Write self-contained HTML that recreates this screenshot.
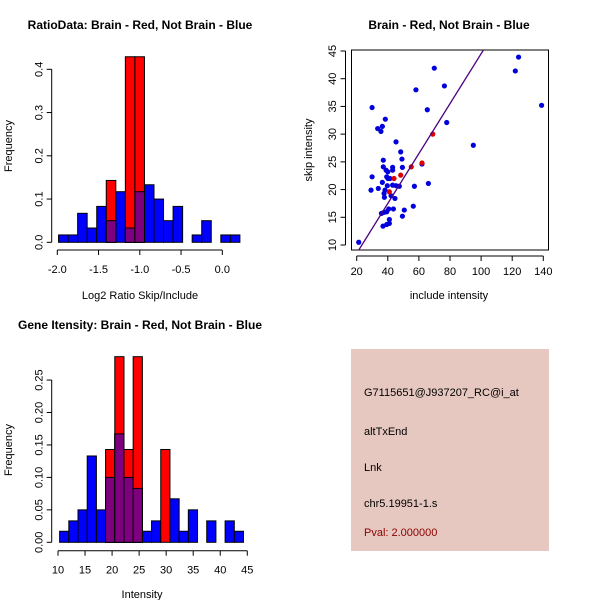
<!DOCTYPE html>
<html><head><meta charset="utf-8"><style>
body{margin:0;background:#fff}
svg{display:block;font-family:"Liberation Sans",Arial,sans-serif}
</style></head><body>
<svg id="c" width="600" height="600" xmlns="http://www.w3.org/2000/svg"></svg>
<script>
// ---- Data ----
const ratioBinStart = -1.985;
const ratioBinWidth = 0.1157;
const ratioBlue = [0.017,0.017,0.067,0.033,0.083,0.05,0.117,0.033,0.117,0.133,0.1,0.05,0.083,0,0.017,0.05,0,0.017,0.017];
const ratioRed  = [0,0,0,0,0,0.143,0,0.429,0.429,0,0,0,0,0,0,0,0,0,0];
const ratioXTicks = [-2.0,-1.5,-1.0,-0.5,0.0];
const ratioXTickLabels = ["-2.0","-1.5","-1.0","-0.5","0.0"];
const ratioYTicks = [0,0.1,0.2,0.3,0.4];
const ratioYTickLabels = ["0.0","0.1","0.2","0.3","0.4"];

const intBinStart = 10.3;
const intBinWidth = 1.70;
const intBlue = [0.017,0.033,0.05,0.133,0.05,0.1,0.167,0.1,0.083,0.017,0.033,0,0.067,0.017,0.05,0,0.033,0,0.033,0.017];
const intRed  = [0,0,0,0,0,0.143,0.286,0.143,0.286,0,0,0.143,0,0,0,0,0,0,0,0];
const intXTicks = [10,15,20,25,30,35,40,45];
const intYTicks = [0,0.05,0.10,0.15,0.20,0.25];
const intYTickLabels = ["0.00","0.05","0.10","0.15","0.20","0.25"];

const blueInclude = [21.3,29.9,29.2,29.9,33.9,33.5,35.6,36.5,38.4,37.1,37.1,36.5,38.9,40,40.1,39.3,41.4,38.2,37.6,39.7,43.1,45.3,47.4,37.8,42.1,44.6,43.1,43.1,45.3,48.3,49.1,49.4,35.9,37.6,39.3,40.6,43.6,36.9,39.3,41,41,49.4,50.6,56.4,57.1,58.1,65.4,66.1,62,69.9,76.4,77.9,95,122,124.1,138.9];
const blueSkip    = [10.5,34.8,19.9,22.3,20.2,31.0,30.5,31.4,32.7,25.3,24.1,21.3,23.5,23.2,22.0,22.3,22.0,19.9,19.3,20.7,20.8,20.7,20.6,18.6,18.9,18.4,23.5,24.0,28.6,26.8,25.5,24.0,15.7,15.9,16.0,16.5,16.5,13.4,13.7,13.9,14.6,15.2,16.3,17.0,20.6,38.0,34.4,21.1,24.6,41.9,38.7,32.1,28.0,41.4,43.9,35.2];
const redInclude = [68.9,55.1,48.3,44.0,41.0,62.0];
const redSkip    = [30.0,24.1,22.6,22.0,19.6,24.8];
const fitLine = [0.45,-0.5]; // slope, intercept
const scXTicks = [20,40,60,80,100,120,140];
const scYTicks = [10,15,20,25,30,35,40,45];

// ---- Helpers ----
const svg = document.getElementById('c');
const NS = "http://www.w3.org/2000/svg";
function el(tag, attrs, parent){
  const e = document.createElementNS(NS, tag);
  for (const k in attrs) e.setAttribute(k, attrs[k]);
  (parent||svg).appendChild(e);
  return e;
}
function txt(x,y,s,size,opts){
  opts=opts||{};
  const t = el('text',{x:x,y:y,'font-size':size,'text-anchor':opts.anchor||'middle',fill:opts.fill||'#000','font-weight':opts.bold?'bold':'normal'});
  if(opts.rot) t.setAttribute('transform','rotate(-90 '+x+' '+y+')');
  t.textContent = s;
  return t;
}

// ---- Histogram drawer ----
function histogram(cfg){
  const sx = v => cfg.x0px + (v - cfg.x0) * cfg.xs;
  const sy = v => cfg.y0px - v * cfg.ys;
  const g = el('g',{});
  
  
  for (let i=0;i<cfg.blue.length;i++){
    const h = cfg.blue[i]; if(h<=0) continue;
    const x1 = sx(cfg.binStart + i*cfg.binW), x2 = sx(cfg.binStart + (i+1)*cfg.binW);
    const r = el('rect',{x:x1,y:sy(h),width:x2-x1,height:sy(0)-sy(h),fill:'#0000ff',stroke:'#000','stroke-width':1},g);
    
    
  }
  for (let i=0;i<cfg.red.length;i++){
    const h = cfg.red[i]; if(h<=0) continue;
    const x1 = sx(cfg.binStart + i*cfg.binW), x2 = sx(cfg.binStart + (i+1)*cfg.binW);
    const r = el('rect',{x:x1,y:sy(h),width:x2-x1,height:sy(0)-sy(h),fill:'#ff0000',stroke:'#000','stroke-width':1},g);
    
    
    const b = Math.min(cfg.blue[i], h);
    if (b>0){
      const p = el('rect',{x:x1,y:sy(b),width:x2-x1,height:sy(0)-sy(b),fill:'#7f007f',stroke:'#000','stroke-width':1},g);
      
      
    }
  }
  // y axis
  const yt = cfg.yTicks;
  el('line',{x1:cfg.yAxisX,x2:cfg.yAxisX,y1:sy(yt[0]),y2:sy(yt[yt.length-1]),stroke:'#000'});
  yt.forEach((v,i)=>{
    el('line',{x1:cfg.yAxisX-5,x2:cfg.yAxisX,y1:sy(v),y2:sy(v),stroke:'#000'});
    const t = txt(cfg.yAxisX-9,sy(v),cfg.yLabels[i],11,{rot:true});
    
    
  });
  const xt = cfg.xTicks;
  el('line',{x1:sx(xt[0]),x2:sx(xt[xt.length-1]),y1:cfg.xAxisY,y2:cfg.xAxisY,stroke:'#000'});
  xt.forEach((v,i)=>{
    el('line',{x1:sx(v),x2:sx(v),y1:cfg.xAxisY,y2:cfg.xAxisY+5,stroke:'#000'});
    const t = txt(sx(v),cfg.xAxisY+23,cfg.xLabels[i],11);
    
    
  });
}

histogram({name:'ratio-histogram',blue:ratioBlue,red:ratioRed,binStart:ratioBinStart,binW:ratioBinWidth,
  x0:-2,x0px:57.3,xs:82.5,y0px:242.3,ys:432.5,yAxisX:51.7,xAxisY:250,
  yTicks:ratioYTicks,yLabels:ratioYTickLabels,xTicks:ratioXTicks,xLabels:ratioXTickLabels});
let t;
t=txt(140,29,'RatioData: Brain - Red, Not Brain - Blue',12,{bold:true});
 
t=txt(140,299,'Log2 Ratio Skip/Include',11);
 
t=txt(12,146,'Frequency',11,{rot:true});
 

histogram({name:'intensity-histogram',blue:intBlue,red:intRed,binStart:intBinStart,binW:intBinWidth,
  x0:10,x0px:58,xs:5.408,y0px:542.3,ys:649,yAxisX:51.7,xAxisY:550.7,
  yTicks:intYTicks,yLabels:intYTickLabels,xTicks:intXTicks,xLabels:intXTicks.map(String)});
t=txt(140,329,'Gene Itensity: Brain - Red, Not Brain - Blue',12,{bold:true});
 
t=txt(142,598,'Intensity',11);
 
t=txt(12,450,'Frequency',11,{rot:true});
 

// ---- Scatter ----
(function(){
  const sx = v => 356.7 + (v-20)*1.555;
  const sy = v => 245 - (v-10)*5.543;
  const g = el('g',{});
  
  
  const box = el('rect',{x:351.5,y:50,width:197,height:200,fill:'none',stroke:'#000'},g);
  
  
  const clip = el('clipPath',{id:'scclip'},g);
  el('rect',{x:351.5,y:50,width:197,height:200},clip);
  blueInclude.forEach((v,i)=>{
    const c = el('circle',{cx:sx(v),cy:sy(blueSkip[i]),r:2.6,fill:'#0000dd'},g);
    
    
  });
  redInclude.forEach((v,i)=>{
    const c = el('circle',{cx:sx(v),cy:sy(redSkip[i]),r:2.6,fill:'#dd0000'},g);
    
    
  });
  const xa=0, xb=160;
  const ln = el('line',{x1:sx(xa),y1:sy(fitLine[0]*xa+fitLine[1]),x2:sx(xb),y2:sy(fitLine[0]*xb+fitLine[1]),stroke:'#4b0082','stroke-width':1.3,'clip-path':'url(#scclip)'},g);
  
  
  el('line',{x1:sx(20),x2:sx(140),y1:256,y2:256,stroke:'#000'});
  scXTicks.forEach(v=>{
    el('line',{x1:sx(v),x2:sx(v),y1:256,y2:261,stroke:'#000'});
    const tt = txt(sx(v),275,String(v),11);
    
    
  });
  el('line',{x1:345.5,x2:345.5,y1:sy(10),y2:sy(45),stroke:'#000'});
  scYTicks.forEach(v=>{
    el('line',{x1:340.5,x2:345.5,y1:sy(v),y2:sy(v),stroke:'#000'});
    const tt = txt(336,sy(v),String(v),11,{rot:true});
    
    
  });
})();
t=txt(449,29,'Brain - Red, Not Brain - Blue',12,{bold:true});
 
t=txt(449,299,'include intensity',11);
 
t=txt(312,150,'skip intensity',11,{rot:true});
 

// ---- Info box ----
const ib = el('rect',{x:351,y:349,width:198,height:202,fill:'#e6c8c0'});


const lines = [['G7115651@J937207_RC@i_at',396,'#000','probe-id'],['altTxEnd',435,'#000','event-type'],['Lnk',471,'#000','link-label'],['chr5.19951-1.s',507,'#000','location'],['Pval: 2.000000',536,'#8b0000','p-value']];
lines.forEach(l=>{
  const tt = txt(364,l[1],l[0],11,{anchor:'start',fill:l[2]});
  
  
});
</script>
</body></html>
